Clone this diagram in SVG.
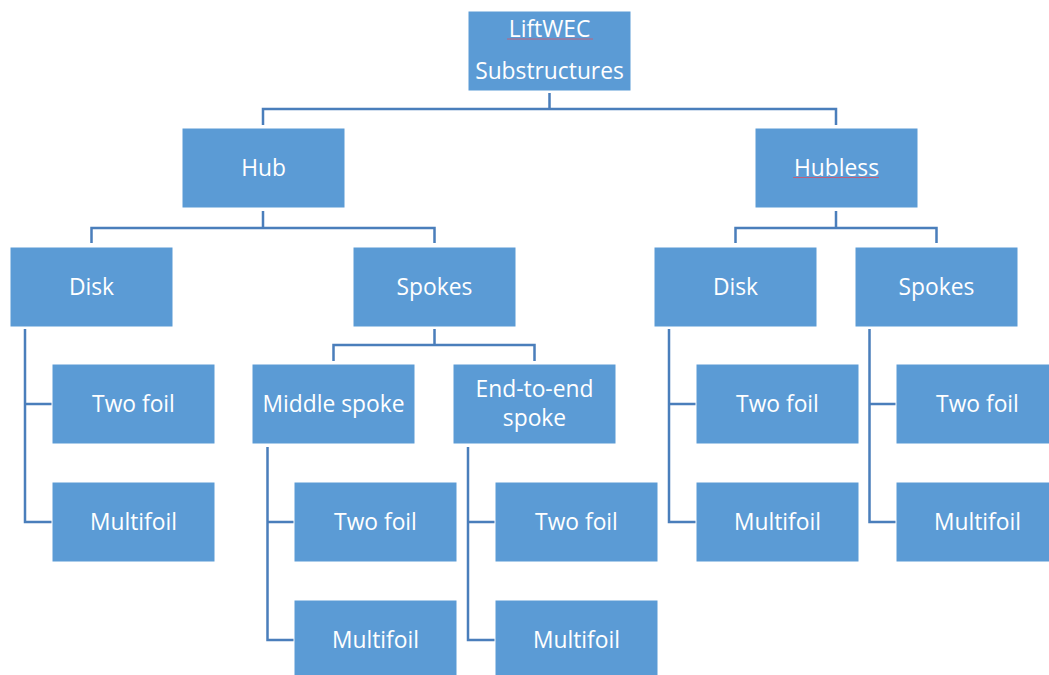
<svg xmlns="http://www.w3.org/2000/svg" width="1049" height="675" viewBox="0 0 1049 675">
<style>
.box{fill:#5B9BD5;stroke:#ffffff;stroke-width:1}
.lbl{font-family:"Open Sans","Liberation Sans",sans-serif;font-size:22.8px;fill:#ffffff;text-anchor:middle}
.con{fill:none;stroke:#4A7EBB;stroke-width:2.5}
.sq{stroke:#C0607A;stroke-width:1;fill:none}
</style>
<rect width="1049" height="675" fill="#ffffff"/>
<g id="connectors">
<path class="con" d="M549.5 93V109M263 125V109H836V125"/>
<path class="con" d="M263 211V228M91.5 243V228H434.5V243"/>
<path class="con" d="M836 211V228M735.5 243V228H936.5V243"/>
<path class="con" d="M434.5 329V345M333.5 361V345H534.5V361"/>
<path class="con" d="M25 329V522H52M25 404H52"/>
<path class="con" d="M267.5 447V640H294M267.5 522H294"/>
<path class="con" d="M468 447V640H495M468 522H495"/>
<path class="con" d="M669 329V522H696M669 404H696"/>
<path class="con" d="M869.5 329V522H896M869.5 404H896"/>
</g>
<g id="root"><rect class="box" x="468" y="11" width="163" height="80"/><text class="lbl" x="549.5" y="37">LiftWEC</text><text class="lbl" x="549.5" y="79">Substructures</text><path class="sq" d="M507 39H593"/></g>
<g id="hub"><rect class="box" x="182" y="128" width="163" height="80"/><text class="lbl" x="263.5" y="176">Hub</text></g>
<g id="hubless"><rect class="box" x="755" y="128" width="163" height="80"/><text class="lbl" x="836.5" y="176">Hubless</text><path class="sq" d="M793 177.5H879"/></g>
<g id="hub-disk"><rect class="box" x="10" y="247" width="163" height="80"/><text class="lbl" x="91.5" y="295">Disk</text></g>
<g id="hub-spokes"><rect class="box" x="353" y="247" width="163" height="80"/><text class="lbl" x="434.5" y="295">Spokes</text></g>
<g id="hubless-disk"><rect class="box" x="654" y="247" width="163" height="80"/><text class="lbl" x="735.5" y="295">Disk</text></g>
<g id="hubless-spokes"><rect class="box" x="855" y="247" width="163" height="80"/><text class="lbl" x="936.5" y="295">Spokes</text></g>
<g id="hub-disk-twofoil"><rect class="box" x="52" y="364" width="163" height="80"/><text class="lbl" x="133.5" y="412">Two foil</text></g>
<g id="middle-spoke"><rect class="box" x="252" y="364" width="163" height="80"/><text class="lbl" x="333.5" y="412">Middle spoke</text></g>
<g id="end-to-end-spoke"><rect class="box" x="453" y="364" width="163" height="80"/><text class="lbl" x="534.5" y="397">End-to-end</text><text class="lbl" x="534.5" y="426">spoke</text></g>
<g id="hubless-disk-twofoil"><rect class="box" x="696" y="364" width="163" height="80"/><text class="lbl" x="777.5" y="412">Two foil</text></g>
<g id="hubless-spokes-twofoil"><rect class="box" x="896" y="364" width="163" height="80"/><text class="lbl" x="977.5" y="412">Two foil</text></g>
<g id="hub-disk-multifoil"><rect class="box" x="52" y="482" width="163" height="80"/><text class="lbl" x="133.5" y="530">Multifoil</text></g>
<g id="middle-twofoil"><rect class="box" x="294" y="482" width="163" height="80"/><text class="lbl" x="375.5" y="530">Two foil</text></g>
<g id="end-twofoil"><rect class="box" x="495" y="482" width="163" height="80"/><text class="lbl" x="576.5" y="530">Two foil</text></g>
<g id="hubless-disk-multifoil"><rect class="box" x="696" y="482" width="163" height="80"/><text class="lbl" x="777.5" y="530">Multifoil</text></g>
<g id="hubless-spokes-multifoil"><rect class="box" x="896" y="482" width="163" height="80"/><text class="lbl" x="977.5" y="530">Multifoil</text></g>
<g id="middle-multifoil"><rect class="box" x="294" y="600" width="163" height="80"/><text class="lbl" x="375.5" y="648">Multifoil</text></g>
<g id="end-multifoil"><rect class="box" x="495" y="600" width="163" height="80"/><text class="lbl" x="576.5" y="648">Multifoil</text></g>
</svg>
